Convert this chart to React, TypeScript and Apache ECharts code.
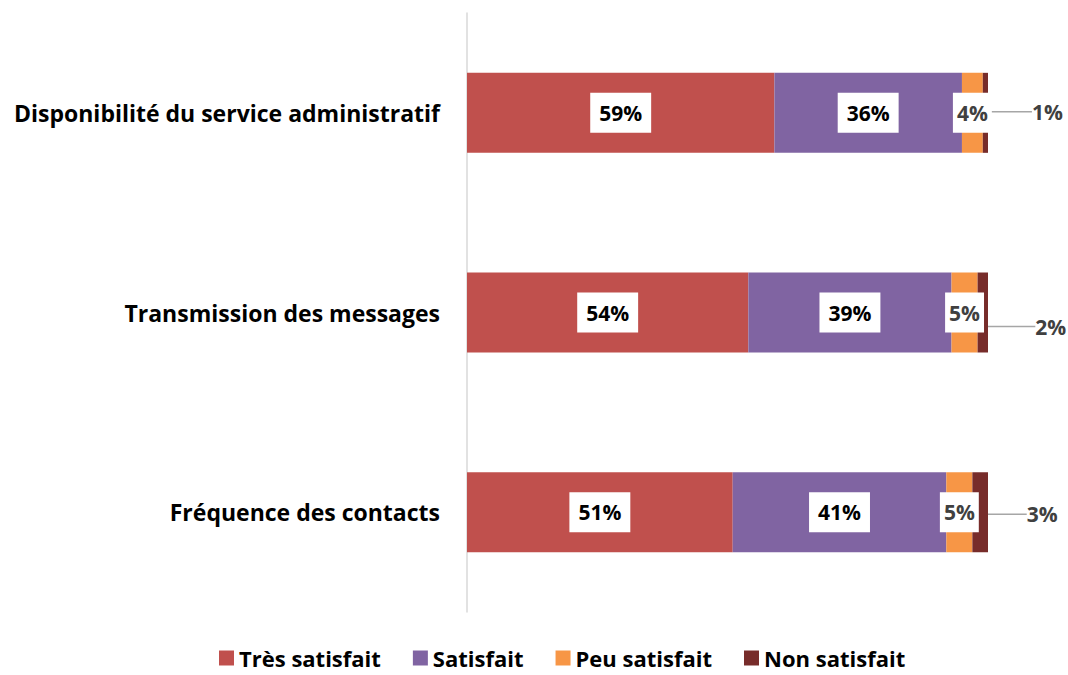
import React, { useEffect, useRef } from "react";
import * as echarts from "echarts";

const categories = [
  "Disponibilité du service administratif",
  "Transmission des messages",
  "Fréquence des contacts",
];
const seriesNames = ["Très satisfait", "Satisfait", "Peu satisfait", "Non satisfait"];
const tresSatisfait = [59, 54, 51];
const satisfait = [36, 39, 41];
const peuSatisfait = [4, 5, 5];
const nonSatisfait = [1, 2, 3];

const colors = ["#C0504D", "#8064A2", "#F79646", "#772C2A"];
const FONT = "Open Sans";
const FS = 21;

export default function App() {
  const ref = useRef<HTMLDivElement>(null);
  useEffect(() => {
    if (!ref.current) return;
    const chart = echarts.init(ref.current, undefined, { renderer: "svg" });
    const boxLabel = (color: string, pad: number[]) => ({
      show: true,
      position: "inside",
      formatter: "{c}%",
      color,
      fontFamily: FONT,
      fontWeight: "bold",
      fontSize: FS,
      lineHeight: 22,
      backgroundColor: "#ffffff",
      padding: pad,
    });
    const outsideOffsets = [
      { dx: 62, dy: -1 },
      { dx: 68, dy: 14 },
      { dx: 62, dy: 2 },
    ];
    chart.setOption({
      animation: false,
      color: colors,
      grid: { left: 467, right: 80, top: 13, bottom: 63, containLabel: false },
      xAxis: {
        type: "value",
        min: 0,
        max: 100,
        show: false,
        splitLine: { show: false },
      },
      yAxis: {
        type: "category",
        data: categories,
        inverse: true,
        axisLine: { show: true, lineStyle: { color: "#d9d9d9", width: 1.5 } },
        axisTick: { show: false },
        axisLabel: {
          color: "#000000",
          fontFamily: FONT,
          fontWeight: "bold",
          fontSize: 23,
          margin: 27,
        },
      },
      legend: {
        top: 642,
        left: 214,
        padding: 5,
        icon: "rect",
        itemWidth: 15,
        itemHeight: 15,
        itemGap: 32,
        textStyle: {
          color: "#000000",
          fontFamily: FONT,
          fontWeight: "bold",
          fontSize: 22,
          lineHeight: 22,
        },
        data: seriesNames,
      },
      series: [
        {
          name: seriesNames[0],
          type: "bar",
          stack: "total",
          barWidth: 80,
          data: tresSatisfait,
          label: boxLabel("#000000", [9, 9]),
        },
        {
          name: seriesNames[1],
          type: "bar",
          stack: "total",
          barWidth: 80,
          data: satisfait,
          label: boxLabel("#000000", [9, 9]),
        },
        {
          name: seriesNames[2],
          type: "bar",
          stack: "total",
          barWidth: 80,
          data: peuSatisfait,
          label: boxLabel("#404040", [9, 4]),
        },
        {
          name: seriesNames[3],
          type: "bar",
          stack: "total",
          barWidth: 80,
          data: nonSatisfait,
          label: {
            show: true,
            position: "inside",
            formatter: "{c}%",
            color: "#404040",
            fontFamily: FONT,
            fontWeight: "bold",
            fontSize: FS,
          },
          labelLine: { show: true, lineStyle: { color: "#a6a6a6", width: 1.5 } },
          labelLayout: (params: any) => outsideOffsets[params.dataIndex],
        },
      ],
    });
    return () => chart.dispose();
  }, []);
  return (
    <div
      ref={ref}
      style={{ position: "absolute", left: 0, top: 0, width: 1068, height: 675 }}
    />
  );
}
